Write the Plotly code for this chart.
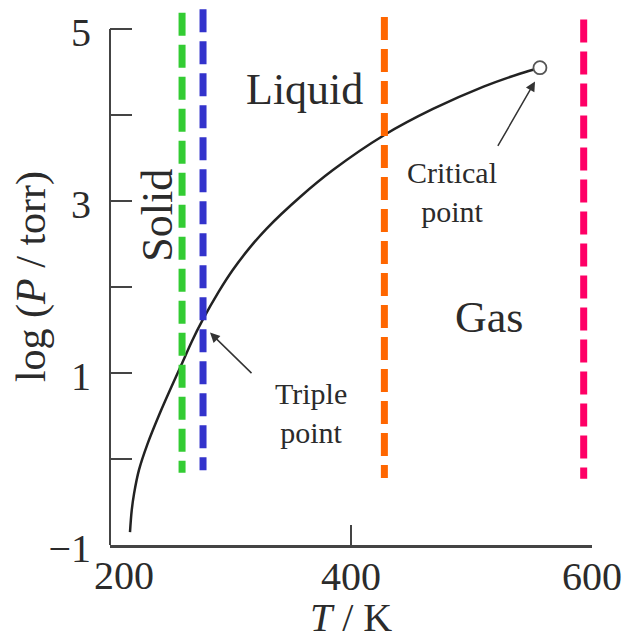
import plotly.graph_objects as go

# ---------------- data ----------------
curve_T = [216.6, 218.0, 220.0, 224.0, 231.0, 241.0, 251.0, 260.0, 268.0, 277.0,
           290.0, 302.0, 315.0, 330.0, 358.0, 385.0, 428.0, 468.0, 510.0, 540.0, 556.8]
curve_logP = [-0.85, -0.60, -0.40, -0.13, 0.17, 0.52, 0.84, 1.12, 1.37, 1.62,
              1.94, 2.20, 2.44, 2.68, 3.05, 3.36, 3.77, 4.07, 4.33, 4.48, 4.55]

critical_T = [556.8]
critical_logP = [4.55]

vline_T = [259.8, 277.2, 427.7, 593.1]
vline_top = [5.19, 5.23, 5.14, 5.11]
vline_bottom = [-0.16, -0.13, -0.22, -0.23]
vline_colors = ["#33cc33", "#3333cc", "#ff6600", "#ff0066"]

y_tickvals = [-1, 0, 1, 2, 3, 4, 5]
y_ticktext = ["\u22121", "", "1", "", "3", "", "5"]
x_tickvals = [400, 600]
x_ticktext = ["400", "600"]
x_first_label = "200"

region_labels = ["Liquid", "Gas", "Solid"]
region_T = [361.8, 514.5, 239.8]
region_logP = [4.30, 1.64, 2.84]
region_angle = [0, 0, -90]

point_labels = ["Triple<br>point", "Critical<br>point"]
point_label_T = [366.8, 483.8]
point_label_logP = [0.54, 3.11]
arrow_tip_T = [283.0, 552.7]
arrow_tip_logP = [1.47, 4.39]
arrow_ax = [43, -38]
arrow_ay = [42, 66]

# ---------------- layout geometry ----------------
# the page body adds an 8 px margin, so the figure is 8 px smaller and offset
W, H = 622, 632
ML, MR, MT, MB = 102, 38, 0, 95
plot_h = H - MT - MB
unit_px = 516 / 6.0  # pixels per logP unit
y_range = [min(y_tickvals), min(y_tickvals) + plot_h / unit_px]

FONT = "Liberation Serif"
TXT = "#2b2b2b"
AX = "#444444"

fig = go.Figure()

fig.add_trace(go.Scatter(
    x=curve_T, y=curve_logP, mode="lines",
    line=dict(color="#222222", width=2.5, shape="spline", smoothing=1.0),
    hoverinfo="skip", showlegend=False))

fig.add_trace(go.Scatter(
    x=critical_T, y=critical_logP, mode="markers",
    marker=dict(size=13, color="white", line=dict(color="#555555", width=1.8)),
    hoverinfo="skip", showlegend=False))

for t, top, bot, c in zip(vline_T, vline_top, vline_bottom, vline_colors):
    fig.add_trace(go.Scatter(
        x=[t, t], y=[top, bot], mode="lines",
        line=dict(color=c, width=7, dash="23px,9px"),
        hoverinfo="skip", showlegend=False))

annotations = []
for txt, tx, ty, ang in zip(region_labels, region_T, region_logP, region_angle):
    annotations.append(dict(x=tx, y=ty, xref="x", yref="y", text=txt, showarrow=False,
                            textangle=ang, font=dict(family=FONT, size=44, color=TXT)))
for txt, tx, ty in zip(point_labels, point_label_T, point_label_logP):
    annotations.append(dict(x=tx, y=ty, xref="x", yref="y", text=txt, showarrow=False,
                            font=dict(family=FONT, size=30, color=TXT)))
for tx, ty, ax, ay in zip(arrow_tip_T, arrow_tip_logP, arrow_ax, arrow_ay):
    annotations.append(dict(x=tx, y=ty, xref="x", yref="y", text="", showarrow=True,
                            ax=ax, ay=ay, arrowhead=2, arrowsize=1.3, arrowwidth=1.5,
                            arrowcolor="#333333"))
annotations.append(dict(x=200, y=0, xref="x", yref="paper", text=x_first_label,
                        showarrow=False, xshift=14, yanchor="top", yshift=-6,
                        font=dict(family=FONT, size=40, color=TXT)))

# y-axis spine only between the lowest and highest tick
shapes = [dict(type="line", xref="paper", yref="y", x0=0, x1=0,
               y0=min(y_tickvals), y1=max(y_tickvals),
               line=dict(color=AX, width=2), layer="above")]

fig.update_layout(
    width=W, height=H,
    margin=dict(l=ML, r=MR, t=MT, b=MB, autoexpand=False),
    paper_bgcolor="white", plot_bgcolor="white",
    showlegend=False,
    font=dict(family=FONT, color=TXT),
    annotations=annotations,
    shapes=shapes,
    xaxis=dict(range=[200, 600], automargin=False,
               tickvals=x_tickvals, ticktext=x_ticktext,
               ticks="inside", ticklen=20, tickwidth=1.5, tickcolor=AX,
               showline=True, linecolor=AX, linewidth=2.5, showgrid=False, zeroline=False,
               tickfont=dict(family=FONT, size=40, color=TXT), ticklabelstandoff=-6,
               title=dict(text="<i>T</i> / K", font=dict(family=FONT, size=40, color=TXT),
                          standoff=2)),
    yaxis=dict(range=y_range, automargin=False,
               tickvals=y_tickvals, ticktext=y_ticktext,
               ticks="inside", ticklen=22, tickwidth=1.5, tickcolor=AX,
               showline=False, showgrid=False, zeroline=False,
               tickfont=dict(family=FONT, size=40, color=TXT), ticklabelstandoff=18,
               ticklabelshift=3,
               title=dict(text="log (<i>P</i> / torr)", font=dict(family=FONT, size=42, color=TXT),
                          standoff=0)),
)

fig.write_html("out.html")
